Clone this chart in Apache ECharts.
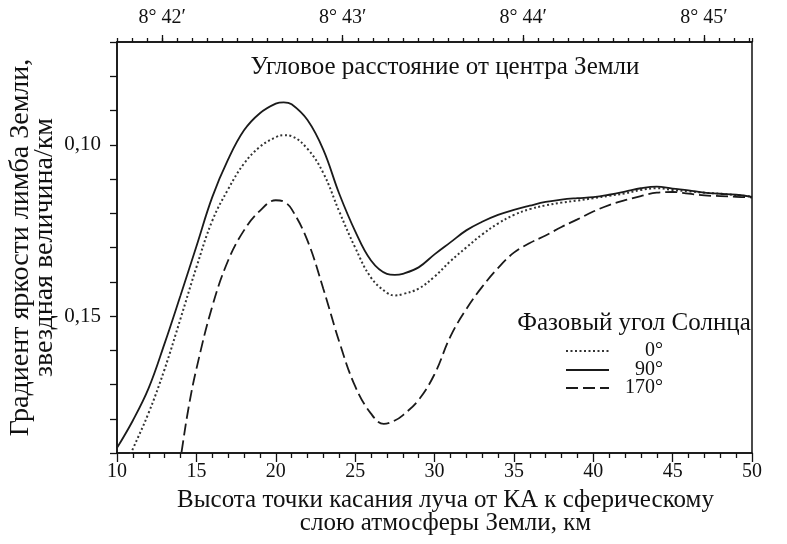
<!DOCTYPE html>
<html><head><meta charset="utf-8">
<script src="https://cdn.jsdelivr.net/npm/echarts@6/dist/echarts.min.js"></script>
<style>html,body{margin:0;padding:0;background:#fff}#c{width:787px;height:544px}</style>
</head><body><div id="c"></div>
<script>
// Phase angle 0° (dotted)
const heights0 = [10.5, 11, 12, 13, 14, 15, 16, 17, 18, 19, 20, 20.5, 21, 22, 23, 24, 25, 26, 27, 27.5, 28, 29, 30, 31, 32, 33, 34, 35, 36, 37, 38, 39, 40, 41, 42, 43, 44, 45, 46, 47, 48, 49, 50];
const values0  = [0.1940, 0.1888, 0.1782, 0.1655, 0.1508, 0.1358, 0.1222, 0.1130, 0.1055, 0.1006, 0.0978, 0.0972, 0.0975, 0.1012, 0.1083, 0.1195, 0.1300, 0.1388, 0.1432, 0.1440, 0.1436, 0.1420, 0.1385, 0.1340, 0.1300, 0.1262, 0.1230, 0.1205, 0.1188, 0.1177, 0.1169, 0.1163, 0.1156, 0.1149, 0.1142, 0.1132, 0.1127, 0.1132, 0.1136, 0.1140, 0.1143, 0.1147, 0.1152];
// Phase angle 90° (solid)
const heights90 = [10, 11, 12, 13, 14, 15, 16, 17, 18, 19, 20, 20.5, 21, 22, 23, 24, 25, 26, 27, 27.5, 28, 29, 30, 31, 32, 33, 34, 35, 36, 37, 38, 39, 40, 41, 42, 43, 44, 45, 46, 47, 48, 49, 50];
const values90  = [0.1885, 0.1805, 0.1710, 0.1580, 0.1440, 0.1297, 0.1153, 0.1043, 0.0958, 0.0908, 0.0880, 0.0876, 0.0882, 0.0928, 0.1015, 0.1143, 0.1252, 0.1338, 0.1377, 0.1380, 0.1377, 0.1358, 0.1320, 0.1285, 0.1250, 0.1225, 0.1205, 0.1190, 0.1178, 0.1167, 0.1160, 0.1156, 0.1153, 0.1146, 0.1137, 0.1127, 0.1122, 0.1128, 0.1133, 0.1140, 0.1143, 0.1146, 0.1152];
// Phase angle 170° (dashed)
const heights170 = [13.9, 14, 14.5, 15, 16, 17, 18, 19, 20, 20.5, 21, 22, 23, 24, 25, 26, 26.8, 27.5, 28, 29, 30, 31, 32, 33, 34, 35, 36, 37, 38, 39, 40, 41, 42, 43, 44, 45, 46, 47, 48, 49, 50];
const values170  = [0.1947, 0.1917, 0.1770, 0.1655, 0.1472, 0.1338, 0.1250, 0.1193, 0.1162, 0.1166, 0.1188, 0.1280, 0.1421, 0.1575, 0.1705, 0.1785, 0.1815, 0.1805, 0.1790, 0.1745, 0.1670, 0.1560, 0.1480, 0.1415, 0.1360, 0.1315, 0.1287, 0.1265, 0.1240, 0.1218, 0.1195, 0.1176, 0.1162, 0.1150, 0.1140, 0.1138, 0.1143, 0.1148, 0.1150, 0.1152, 0.1154];

const seriesNames = ['0°', '90°', '170°'];
const yLabelValues = [0.10, 0.15];
// top axis: arcseconds past 8°40′
const topLabelValues = [120, 180, 240, 300];

const FONT = '"Liberation Serif", "Times New Roman", serif';
const BLACK = '#111';
const txt = {fontFamily: FONT, fontSize: 20, color: BLACK, fontWeight: 'normal'};
const bigTxt = {fontFamily: FONT, fontSize: 25, color: BLACK, fontWeight: 'normal'};

function pairs(hs, vs) { return hs.map((h, i) => [h, vs[i]]); }

function legendRow(name, top) {
  return {
    show: true, orient: 'vertical', left: 565, top: top, padding: 0,
    itemWidth: 43, itemHeight: 14, itemGap: 0,
    data: [name],
    itemStyle: {opacity: 0},
    formatter: n => '{r|' + n + '}',
    textStyle: {fontFamily: FONT, fontSize: 20, color: BLACK,
      rich: {r: {width: 49, align: 'right', fontFamily: FONT, fontSize: 20, color: BLACK}}}
  };
}

const chart = echarts.init(document.getElementById('c'), null, {renderer: 'canvas'});
chart.setOption({
  animation: false,
  backgroundColor: '#fff',
  grid: {left: 117, right: 35, top: 42, bottom: 91, show: true, borderColor: BLACK, borderWidth: 1.5, backgroundColor: 'transparent', outerBoundsMode: 'none'},
  title: [
    {text: 'Угловое расстояние от центра Земли', left: 445, top: 55, padding: 0, textAlign: 'center', textStyle: bigTxt},
    {text: 'Фазовый угол Солнца', left: 634, top: 311, padding: 0, textAlign: 'center', textStyle: bigTxt}
  ],
  legend: [legendRow(seriesNames[0], 341), legendRow(seriesNames[1], 360), legendRow(seriesNames[2], 378)],
  xAxis: [
    {
      type: 'value', position: 'bottom', min: 10, max: 50, interval: 5,
      axisLine: {show: true, onZero: false, lineStyle: {color: BLACK, width: 1.5}},
      axisTick: {show: true, length: 9, lineStyle: {color: BLACK, width: 1.3}},
      minorTick: {show: true, splitNumber: 5, length: 5, lineStyle: {color: BLACK, width: 1.3}},
      splitLine: {show: false}, minorSplitLine: {show: false},
      axisLabel: Object.assign({margin: 9}, txt),
      name: 'Высота точки касания луча от КА к сферическому\nслою атмосферы Земли, км',
      nameLocation: 'middle', nameGap: 36, nameMoveOverlap: false,
      nameTextStyle: Object.assign({lineHeight: 23, padding: [0, 0, 0, 22]}, bigTxt)
    },
    {
      type: 'value', position: 'top', min: 105, max: 316, interval: 5,
      axisLine: {show: true, onZero: false, lineStyle: {color: BLACK, width: 1.5}},
      axisTick: {show: true, length: 4, lineStyle: {color: BLACK, width: 1.3}},
      splitLine: {show: false},
      axisLabel: Object.assign({margin: 14, customValues: topLabelValues,
        formatter: v => '8° ' + (40 + Math.round(v / 60)) + '′'}, txt)
    },
    {
      type: 'value', position: 'top', min: 105, max: 316,
      axisLine: {show: false},
      axisTick: {show: true, length: 7, customValues: topLabelValues, lineStyle: {color: BLACK, width: 1.3}},
      splitLine: {show: false},
      axisLabel: {show: false}
    }
  ],
  yAxis: [
    {
      type: 'value', inverse: true, min: 0.07, max: 0.19, interval: 0.01,
      axisLine: {show: true, onZero: false, lineStyle: {color: BLACK, width: 1.5}},
      axisTick: {show: true, length: 7, lineStyle: {color: BLACK, width: 1.3}},
      splitLine: {show: false},
      axisLabel: Object.assign({margin: 16, customValues: yLabelValues,
        formatter: v => v.toFixed(2).replace('.', ',')}, txt, {fontSize: 21}),
      name: 'Градиент яркости лимба Земли,\nзвездная величина/км',
      nameLocation: 'middle', nameGap: 60, nameRotate: 90, nameMoveOverlap: false,
      nameTextStyle: Object.assign({lineHeight: 24}, bigTxt, {fontSize: 28})
    }
  ],
  series: [
    {name: seriesNames[0], type: 'line', xAxisIndex: 0, yAxisIndex: 0, data: pairs(heights0, values0),
     symbol: 'none', smooth: 0.4, clip: true,
     lineStyle: {color: '#333', width: 2, type: [2, 2.5]}, itemStyle: {color: '#333', opacity: 0}},
    {name: seriesNames[1], type: 'line', xAxisIndex: 0, yAxisIndex: 0, data: pairs(heights90, values90),
     symbol: 'none', smooth: 0.4, clip: true,
     lineStyle: {color: '#1a1a1a', width: 1.8, type: 'solid'}, itemStyle: {color: '#1a1a1a', opacity: 0}},
    {name: seriesNames[2], type: 'line', xAxisIndex: 0, yAxisIndex: 0, data: pairs(heights170, values170),
     symbol: 'none', smooth: 0.4, clip: true,
     lineStyle: {color: '#1a1a1a', width: 1.8, type: [12, 5]}, itemStyle: {color: '#1a1a1a', opacity: 0}}
  ]
});
</script>
</body></html>
